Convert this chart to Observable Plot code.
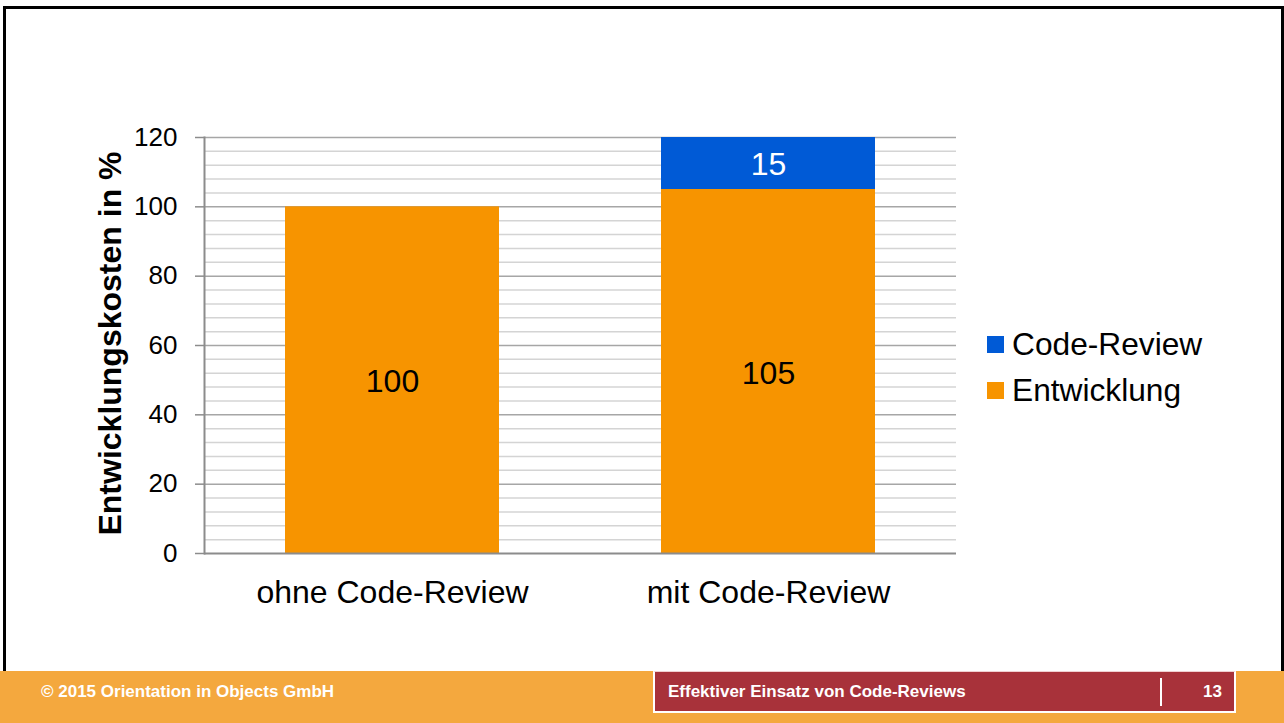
<!DOCTYPE html>
<html>
<head>
<meta charset="utf-8">
<script src="https://cdn.jsdelivr.net/npm/d3@7"></script>
<script src="https://cdn.jsdelivr.net/npm/@observablehq/plot@0.6"></script>
<style>
  html, body { margin: 0; padding: 0; background: #fff; }
  #slide { position: relative; width: 1284px; height: 723px; overflow: hidden; background: #fff; font-family: "Liberation Sans", Arial, sans-serif; }
  #border { position: absolute; left: 3px; top: 6px; width: 1275px; height: 700px; border: 3px solid #000; box-sizing: content-box; }
  #chart { position: absolute; left: 0; top: 0; }
  .leg { position: absolute; left: 987px; display: flex; align-items: center; font-size: 31.7px; color: #000; }
  .leg .sw { width: 17px; height: 17px; margin-right: 8px; }
  #footer { position: absolute; left: 0; top: 671px; width: 1284px; height: 52px; background: #F4A83E; }
  #ftext { position: absolute; left: 41px; top: 0; line-height: 42px; color: #fff; font-weight: bold; font-size: 17px; }
  #fbox { position: absolute; left: 653px; top: 0px; width: 579px; height: 39px; background: #A8323A; border: 2px solid #fff; border-top: 1px solid #f0d0d0; }
  #ftitle { position: absolute; left: 13px; top: 0; line-height: 40px; color: #fff; font-weight: bold; font-size: 17px; }
  #fsep { position: absolute; left: 505px; top: 6px; width: 2px; height: 28px; background: #fff; }
  #fnum { position: absolute; right: 12px; top: 0; line-height: 40px; color: #fff; font-weight: bold; font-size: 17px; }
</style>
</head>
<body>
<div id="slide">
  <div id="border"></div>
  <div id="chart"></div>
  <div id="legend"></div>
  <div id="footer">
    <div id="ftext"></div>
    <div id="fbox"><div id="ftitle"></div><div id="fsep"></div><div id="fnum"></div></div>
  </div>
</div>
<script>
// ---- data ----
const categories = ["ohne Code-Review", "mit Code-Review"];
const seriesNames = ["Entwicklung", "Code-Review"];
const entwicklung = [100, 105];
const codeReview = [0, 15];
const seriesColors = ["#F79400", "#005AD6"];
const yTicks = [0, 20, 40, 60, 80, 100, 120];
const yMinorTicks = [4, 8, 12, 16, 24, 28, 32, 36, 44, 48, 52, 56, 64, 68, 72, 76, 84, 88, 92, 96, 104, 108, 112, 116];
const yTitle = "Entwicklungskosten in %";
const footerLeft = "© 2015 Orientation in Objects GmbH";
const footerTitle = "Effektiver Einsatz von Code-Reviews";
const pageNumber = "13";

// ---- stacked rows ----
const rows = [];
categories.forEach((c, i) => {
  let base = 0;
  [entwicklung[i], codeReview[i]].forEach((v, s) => {
    rows.push({cat: c, series: seriesNames[s], value: v, y1: base, y2: base + v});
    base += v;
  });
});

const chart = Plot.plot({
  width: 1284,
  height: 671,
  marginLeft: 204,
  marginRight: 328,
  marginTop: 137,
  marginBottom: 118,
  style: {fontFamily: "'Liberation Sans', Arial, sans-serif", background: "transparent", color: "#000", overflow: "visible"},
  x: {domain: categories, paddingInner: 0.43, paddingOuter: 0.215},
  y: {domain: [0, 120]},
  color: {domain: seriesNames, range: seriesColors},
  marks: [
    Plot.ruleY(yMinorTicks, {stroke: "#d4d4d4", strokeWidth: 1.5}),
    Plot.ruleY(yTicks.filter(d => d > 0), {stroke: "#a6a6a6", strokeWidth: 1.5}),
    Plot.barY(rows.filter(d => d.value > 0), {x: "cat", y1: "y1", y2: "y2", fill: "series", inset: 0}),
    Plot.ruleY([0], {stroke: "#8c8c8c", strokeWidth: 2}),
    Plot.frame({anchor: "left", stroke: "#8c8c8c", strokeWidth: 2}),
    Plot.axisY({ticks: yTicks, tickSize: 9, tickPadding: 18, fontSize: 26, stroke: "#8c8c8c", strokeWidth: 1.5, fill: "#000", label: null, tickFormat: d => String(d)}),
    Plot.axisX({tickSize: 0, tickPadding: 27, fontSize: 32, fill: "#000", label: null}),
    Plot.text(rows.filter(d => d.value > 0 && d.series === "Entwicklung"), {x: "cat", y: d => (d.y1 + d.y2) / 2, text: d => String(d.value), fontSize: 32, dy: 2, fill: "#000"}),
    Plot.text(rows.filter(d => d.value > 0 && d.series === "Code-Review"), {x: "cat", y: d => (d.y1 + d.y2) / 2, text: d => String(d.value), fontSize: 32, dy: 1, fill: "#fff"}),
    Plot.text([yTitle], {text: d => d, frameAnchor: "left", textAnchor: "middle", lineAnchor: "middle", rotate: -90, dx: -94, dy: -2, fontSize: 32, fontWeight: "bold", fill: "#000"})
  ]
});
document.getElementById("chart").appendChild(chart);

// ---- legend (top entry = top of stack) ----
const legend = document.getElementById("legend");
const legendOrder = [1, 0];
legendOrder.forEach((s, k) => {
  const item = document.createElement("div");
  item.className = "leg";
  item.style.top = (326 + k * 46) + "px";
  const sw = document.createElement("div");
  sw.className = "sw";
  sw.style.background = seriesColors[s];
  const lab = document.createElement("span");
  lab.textContent = seriesNames[s];
  item.appendChild(sw);
  item.appendChild(lab);
  legend.appendChild(item);
});

document.getElementById("ftext").textContent = footerLeft;
document.getElementById("ftitle").textContent = footerTitle;
document.getElementById("fnum").textContent = pageNumber;
</script>
</body>
</html>
